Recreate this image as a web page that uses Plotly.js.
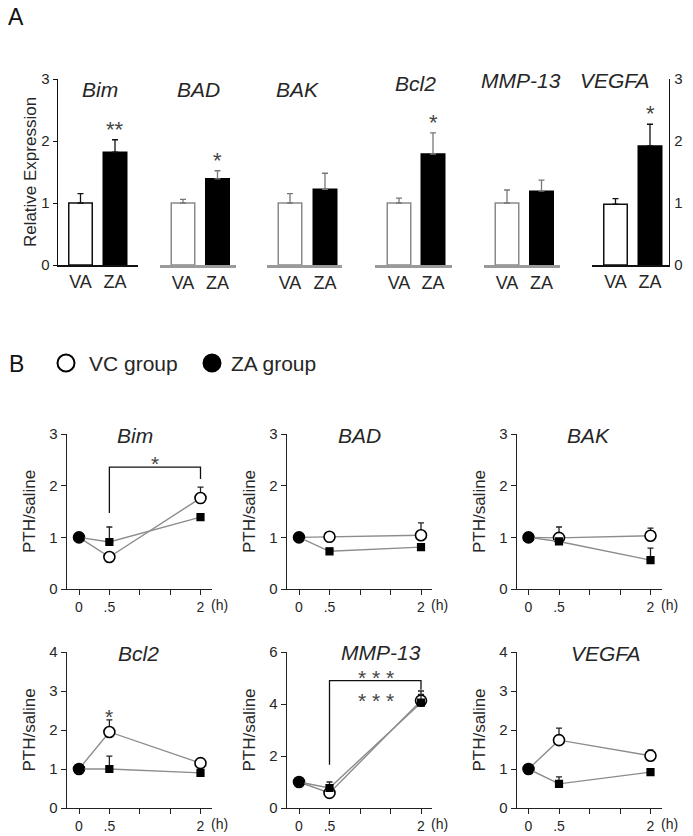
<!DOCTYPE html>
<html><head><meta charset="utf-8">
<script src="https://cdn.plot.ly/plotly-3.0.1.min.js"></script>
<style>html,body{margin:0;padding:0;background:#fff}#chart{width:693px;height:836px}</style>
</head><body><div id="chart"></div>
<script>
// ---------- Panel A data (relative expression, VA vs ZA) ----------
const genesA = ['Bim', 'BAD', 'BAK', 'Bcl2', 'MMP-13', 'VEGFA'];
const groupsA = ['VA', 'ZA'];
const vaMean = [1.00, 1.00, 1.00, 1.00, 1.00, 0.98];
const vaErr  = [0.15, 0.06, 0.15, 0.08, 0.21, 0.09];
const zaMean = [1.82, 1.39, 1.22, 1.79, 1.19, 1.92];
const zaErr  = [0.20, 0.13, 0.26, 0.34, 0.18, 0.35];
const starsA = ['**', '*', '', '*', '', '*'];

// ---------- Panel B data (PTH/saline over time) ----------
const genesB = ['Bim', 'BAD', 'BAK', 'Bcl2', 'MMP-13', 'VEGFA'];
const timeB = [0, 0.5, 2];
const timeTicks = [0, 0.5, 1, 1.5, 2];
const timeTickText = ['0', '.5', '', '', '2'];

const vcBim = [1.00, 0.62, 1.76];  const vcBimErr = [0, 0, 0.21];
const zaBim = [1.00, 0.91, 1.39];  const zaBimErr = [0, 0.29, 0];
const vcBAD = [1.00, 1.01, 1.04];  const vcBADErr = [0, 0.02, 0.24];
const zaBAD = [1.00, 0.73, 0.81];  const zaBADErr = [0, 0, 0.05];
const vcBAK = [1.00, 0.99, 1.03];  const vcBAKErr = [0, 0.21, 0.15];
const zaBAK = [1.00, 0.92, 0.56];  const zaBAKErr = [0, 0, 0.23];
const vcBcl2 = [1.00, 1.95, 1.15]; const vcBcl2Err = [0, 0.31, 0.08];
const zaBcl2 = [1.00, 1.00, 0.90]; const zaBcl2Err = [0, 0.33, 0];
const vcMMP = [1.00, 0.58, 4.13];  const vcMMPErr = [0, 0, 0.37];
const zaMMP = [1.00, 0.77, 4.05];  const zaMMPErr = [0, 0.23, 0.32];
const vcVEGFA = [1.00, 1.74, 1.34]; const vcVEGFAErr = [0, 0.31, 0.15];
const zaVEGFA = [1.00, 0.62, 0.92]; const zaVEGFAErr = [0, 0.18, 0];

const yMaxB = [3, 3, 3, 4, 6, 4];
const dtickB = [1, 1, 1, 1, 2, 1];

// significance brackets (x in hours, y in PTH/saline)
const bimBracketX = [0.5, 0.5, 2, 2];
const bimBracketY = [1.47, 2.36, 2.36, 2.13];
const mmpBracketX = [0.5, 0.5, 2, 2];
const mmpBracketY = [1.66, 4.9, 4.9, 4.55];
const starsB = [
  {panel: 0, x: 1.25, y: 2.36, text: '*'},
  {panel: 3, x: 0.5, y: 2.26, text: '*'},
  {panel: 4, x: 1.27, y: 4.9, text: '* * *'},
  {panel: 4, x: 1.27, y: 4.0, text: '* * *'}
];

const vcB = [vcBim, vcBAD, vcBAK, vcBcl2, vcMMP, vcVEGFA];
const vcBErr = [vcBimErr, vcBADErr, vcBAKErr, vcBcl2Err, vcMMPErr, vcVEGFAErr];
const zaB = [zaBim, zaBAD, zaBAK, zaBcl2, zaMMP, zaVEGFA];
const zaBErr = [zaBimErr, zaBADErr, zaBAKErr, zaBcl2Err, zaMMPErr, zaVEGFAErr];

// ---------- layout helpers ----------
const W = 693, H = 836;
const FONT = 'Liberation Sans, Arial, Helvetica, sans-serif';
const TXT = '#262626';
const px = p => p / W;
const py = p => 1 - p / H;

const traces = [];
const layout = {
  width: W, height: H,
  margin: {l: 0, r: 0, t: 0, b: 0},
  paper_bgcolor: '#fff', plot_bgcolor: 'rgba(0,0,0,0)',
  showlegend: false,
  font: {family: FONT, color: TXT},
  annotations: [], shapes: []
};

// Panel A geometry (pixel positions)
const aL  = [58, 160, 267, 375, 484, 592];
const aR  = [138, 236, 342, 452, 560, 669];
const aC0 = [80.5, 183, 290, 399, 507, 615.5];
const aC1 = [115, 217.5, 325, 433, 541.5, 650];
const aLineCol = ['#111', '#9a9a9a', '#9a9a9a', '#9a9a9a', '#9a9a9a', '#111'];
const aLineW = [1.5, 2.5, 2.5, 2.5, 2.5, 1.5];
const aVaEdge = ['#111', '#8a8a8a', '#8a8a8a', '#8a8a8a', '#8a8a8a', '#111'];
const aErrCol = ['#111', '#777', '#777', '#777', '#777', '#111'];
const aTitleX = [100, 198, 297, 415, 521, 615];
const aTitleY = [89, 89, 89, 83, 80, 80];

genesA.forEach((g, i) => {
  const n = i + 1;
  const s = aC1[i] - aC0[i];
  const left = -(aC0[i] - aL[i]) / s;
  const right = 1 + (aR[i] - aC1[i]) / s;
  traces.push({
    type: 'bar', x: groupsA, y: [vaMean[i], zaMean[i]],
    xaxis: 'x' + n, yaxis: 'y' + n,
    width: 23.5 / s,
    marker: {color: ['#ffffff', '#000000'], line: {color: [aVaEdge[i], '#000'], width: 1.5}},
    error_y: {type: 'data', symmetric: false, array: [vaErr[i], zaErr[i]], arrayminus: [0, 0],
              color: aErrCol[i], thickness: 1.3, width: 3},
    hoverinfo: 'skip', cliponaxis: false
  });
  layout['xaxis' + n] = {
    domain: [px(aL[i]), px(aR[i])], anchor: 'y' + n, type: 'category',
    range: [left, right], showline: true, linecolor: aLineCol[i], linewidth: aLineW[i],
    ticks: '', showgrid: false, zeroline: false,
    tickfont: {size: 18, color: TXT, family: FONT}, fixedrange: true
  };
  const yax = {
    domain: [py(265), py(79)], anchor: 'x' + n, range: [0, 3], dtick: 1,
    showgrid: false, zeroline: false, fixedrange: true,
    tickfont: {size: 15, color: TXT, family: FONT}
  };
  if (i === 0) {
    Object.assign(yax, {showline: true, linecolor: '#111', linewidth: 1.3, ticks: 'outside', ticklen: 4,
      tickcolor: '#111', title: {text: 'Relative Expression', font: {size: 17, color: TXT, family: FONT}, standoff: 0}});
  } else if (i === 5) {
    Object.assign(yax, {side: 'right', showline: true, linecolor: '#111', linewidth: 1.3, ticks: '', ticklabelstandoff: 1});
  } else {
    Object.assign(yax, {visible: false});
  }
  layout['yaxis' + n] = yax;
  layout.annotations.push({
    text: '<i>' + g + '</i>', xref: 'paper', yref: 'paper', x: px(aTitleX[i]), y: py(aTitleY[i]),
    xanchor: 'center', yanchor: 'middle', showarrow: false, font: {size: 21, color: TXT, family: FONT}
  });
  if (starsA[i]) {
    layout.annotations.push({
      text: starsA[i], xref: 'x' + n, yref: 'y' + n, x: 1, y: zaMean[i] + zaErr[i],
      xanchor: 'center', yanchor: 'bottom', yshift: -4, showarrow: false,
      font: {size: 22, color: '#444', family: FONT}
    });
  }
});

// Panel B geometry
const bX0 = [67, 287, 517];
const bT0 = [79, 299, 528.5];
const bT2 = [200.5, 421, 650.5];
const bXR = [212, 432, 662];
const bRowY = [[589, 434], [808, 652]];
const bTitleX = [135, 360, 588, 138, 381, 606];
const bTitleY = [436, 436, 436, 653, 652, 653];

genesB.forEach((g, i) => {
  const n = i + 7;
  const col = i % 3, row = Math.floor(i / 3);
  const s = (bT2[col] - bT0[col]) / 2;
  const left = -(bT0[col] - bX0[col]) / s;
  const right = 2 + (bXR[col] - bT2[col]) / s;
  const lineStyle = {color: '#8c8c8c', width: 1.4};
  traces.push({
    type: 'scatter', mode: 'lines+markers', x: timeB, y: vcB[i],
    xaxis: 'x' + n, yaxis: 'y' + n, name: 'VC group',
    line: lineStyle,
    marker: {symbol: 'circle', size: 11, color: '#ffffff', opacity: 1, line: {color: '#000', width: 1.6}},
    error_y: {type: 'data', symmetric: false, array: vcBErr[i], arrayminus: [0, 0, 0],
              color: '#222', thickness: 1.3, width: 3},
    hoverinfo: 'skip', cliponaxis: false
  });
  traces.push({
    type: 'scatter', mode: 'lines+markers', x: timeB, y: zaB[i],
    xaxis: 'x' + n, yaxis: 'y' + n, name: 'ZA group',
    line: lineStyle,
    marker: {symbol: ['circle', 'square', 'square'], size: [10, 7, 7], color: '#000', opacity: 1,
             line: {color: '#000', width: 1.2}},
    error_y: {type: 'data', symmetric: false, array: zaBErr[i], arrayminus: [0, 0, 0],
              color: '#222', thickness: 1.3, width: 3},
    hoverinfo: 'skip', cliponaxis: false
  });
  layout['xaxis' + n] = {
    domain: [px(bX0[col]), px(bXR[col])], anchor: 'y' + n,
    range: [left, right], tickvals: timeTicks, ticktext: timeTickText,
    showline: true, linecolor: '#222', linewidth: 1.3, ticks: 'outside', ticklen: 5, tickcolor: '#222',
    showgrid: false, zeroline: false, tickfont: {size: 14, color: TXT, family: FONT}, fixedrange: true
  };
  layout['yaxis' + n] = {
    domain: [py(bRowY[row][0]), py(bRowY[row][1])], anchor: 'x' + n,
    range: [0, yMaxB[i]], dtick: dtickB[i],
    showline: true, linecolor: '#222', linewidth: 1.3, ticks: 'outside', ticklen: 5, tickcolor: '#222',
    showgrid: false, zeroline: false, tickfont: {size: 15, color: TXT, family: FONT}, fixedrange: true,
    title: {text: 'PTH/saline', font: {size: 17, color: TXT, family: FONT}, standoff: 9}
  };
  layout.annotations.push({
    text: '<i>' + g + '</i>', xref: 'paper', yref: 'paper', x: px(bTitleX[i]), y: py(bTitleY[i]),
    xanchor: 'center', yanchor: 'middle', showarrow: false, font: {size: 21, color: TXT, family: FONT}
  });
  layout.annotations.push({
    text: '(h)', xref: 'x' + n, yref: 'y' + n + ' domain', x: 2, y: 0,
    xanchor: 'left', yanchor: 'top', xshift: 8, yshift: -6, showarrow: false,
    font: {size: 14, color: TXT, family: FONT}
  });
});

// significance brackets
[[0, bimBracketX, bimBracketY], [4, mmpBracketX, mmpBracketY]].forEach(([p, bx, by]) => {
  const n = p + 7;
  traces.push({
    type: 'scatter', mode: 'lines', x: bx, y: by, xaxis: 'x' + n, yaxis: 'y' + n,
    line: {color: '#111', width: 1.3}, hoverinfo: 'skip', cliponaxis: false, showlegend: false
  });
});
starsB.forEach(st => {
  const n = st.panel + 7;
  layout.annotations.push({
    text: st.text, xref: 'x' + n, yref: 'y' + n, x: st.x, y: st.y,
    xanchor: 'center', yanchor: 'bottom', yshift: -10, showarrow: false,
    font: {size: 21, color: '#444', family: FONT}
  });
});

// panel letters
layout.annotations.push({text: 'A', xref: 'paper', yref: 'paper', x: px(6), y: py(17),
  xanchor: 'left', yanchor: 'middle', showarrow: false, font: {size: 23, color: '#111', family: FONT}});
layout.annotations.push({text: 'B', xref: 'paper', yref: 'paper', x: px(7), y: py(364),
  xanchor: 'left', yanchor: 'middle', showarrow: false, font: {size: 23, color: '#111', family: FONT}});

// legend for panel B
const legItems = [
  {cx: 66, fill: '#ffffff', label: 'VC group', tx: 87},
  {cx: 212, fill: '#000000', label: 'ZA group', tx: 229}
];
legItems.forEach(it => {
  layout.shapes.push({
    type: 'circle', xref: 'paper', yref: 'paper', xsizemode: 'pixel', ysizemode: 'pixel',
    xanchor: px(it.cx), yanchor: py(363), x0: -8.5, x1: 8.5, y0: -8.5, y1: 8.5,
    fillcolor: it.fill, line: {color: '#000', width: 2}
  });
  layout.annotations.push({text: it.label, xref: 'paper', yref: 'paper', x: px(it.tx), y: py(364),
    xanchor: 'left', yanchor: 'middle', showarrow: false, font: {size: 21, color: TXT, family: FONT}});
});

Plotly.newPlot('chart', traces, layout, {staticPlot: true, displayModeBar: false});
</script>
</body></html>
